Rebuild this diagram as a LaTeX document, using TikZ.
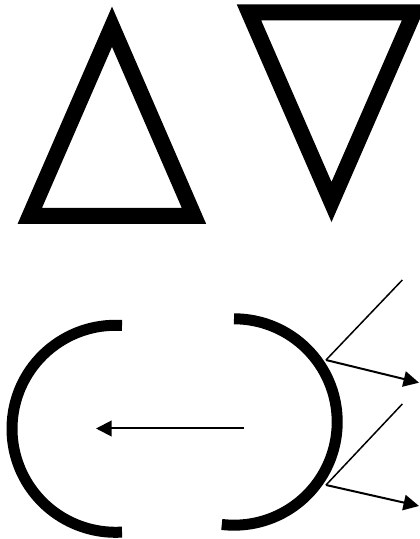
\documentclass[tikz,border=0pt]{standalone}
\usetikzlibrary{arrows.meta}
\tikzset{
    prism/.style={line width=0.32cm,miter limit=20,line join=miter},
    mirror/.style={line width=0.22cm},
    ray/.style={line width=0.04cm,-{Triangle[length=0.31cm,width=0.31cm]}},
}
\begin{document}
\begin{tikzpicture}[scale=1.0]
    \useasboundingbox (0,0) rectangle (8.38,10.78);
    \draw[prism] (2.24,10.245)--(0.595,6.46)--(3.88,6.46)--cycle;
    \draw[prism] (4.98,10.53)--(8.28,10.53)--(6.63,6.74)--cycle;
    \draw[mirror] (2.44,4.27) arc (86.4:273.6:2.07);
    \draw[mirror] (4.68,4.404) arc (90:-96.8:2.064);
    \coordinate (source) at (4.874,2.21);
    \coordinate (focus) at (1.92,2.21);
    \draw[ray] (source)--(focus);
    \coordinate (hitA) at (6.52,3.58);
    \coordinate (inA) at (8.046,5.18);
    \coordinate (outA) at (8.38,3.126);
    \draw[line width=0.03cm] (inA)--(hitA);
    \draw[ray] (hitA)--(outA);
    \coordinate (hitB) at (6.52,1.08);
    \coordinate (inB) at (8.046,2.70);
    \coordinate (outB) at (8.38,0.66);
    \draw[line width=0.03cm] (inB)--(hitB);
    \draw[ray] (hitB)--(outB);
\end{tikzpicture}
\end{document}
